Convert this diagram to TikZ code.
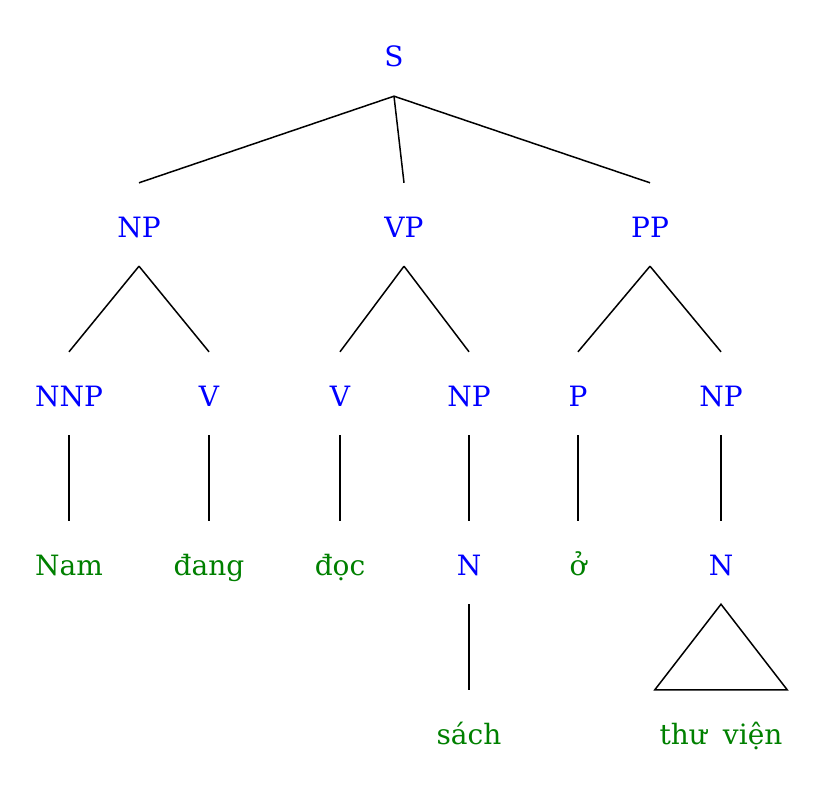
\documentclass[tikz,border=0pt]{standalone}
\usepackage{fontspec}
\setmainfont{DejaVu Serif}
\definecolor{catblue}{RGB}{0,0,255}
\definecolor{wordgreen}{RGB}{0,128,0}
\begin{document}
\begin{tikzpicture}[x=1pt,y=-1pt,
  lab/.style={anchor=base,inner sep=0pt,text height=54pt,text depth=29pt,font=\fontsize{28}{33}\selectfont},
  cat/.style={lab,text=catblue},
  word/.style={lab,text=wordgreen},
  edge/.style={line width=1.5pt,black}]
\useasboundingbox (0,0) rectangle (821,786);
% row 0
\node[cat] (S) at (394,67) {S};
% row 1
\node[cat] (NP1) at (139,237) {NP};
\node[cat] (VP) at (404,237) {VP};
\node[cat] (PP) at (650,237) {PP};
% row 2
\node[cat] (NNP) at (69,406) {NNP};
\node[cat] (V1) at (209,406) {V};
\node[cat] (V2) at (340,406) {V};
\node[cat] (NP2) at (469,406) {NP};
\node[cat] (P) at (578,406) {P};
\node[cat] (NP3) at (721,406) {NP};
% row 3
\node[word] (nam) at (69,575) {Nam};
\node[word] (dang) at (209,575) {đang};
\node[word] (doc) at (340,575) {đọc};
\node[cat] (N1) at (469,575) {N};
\node[word] (o) at (578,575) {ở};
\node[cat] (N2) at (721,575) {N};
% row 4
\node[word] (sach) at (469,744) {sách};
\node[word,minimum width=132pt] (tv) at (721,744) {thư\hspace{16pt}viện};
% edges
\draw[edge] (S.south) -- (NP1.north);
\draw[edge] (S.south) -- (VP.north);
\draw[edge] (S.south) -- (PP.north);
\draw[edge] (NP1.south) -- (NNP.north);
\draw[edge] (NP1.south) -- (V1.north);
\draw[edge] (VP.south) -- (V2.north);
\draw[edge] (VP.south) -- (NP2.north);
\draw[edge] (PP.south) -- (P.north);
\draw[edge] (PP.south) -- (NP3.north);
\draw[edge] (NNP.south) -- (nam.north);
\draw[edge] (V1.south) -- (dang.north);
\draw[edge] (V2.south) -- (doc.north);
\draw[edge] (NP2.south) -- (N1.north);
\draw[edge] (P.south) -- (o.north);
\draw[edge] (NP3.south) -- (N2.north);
\draw[edge] (N1.south) -- (sach.north);
\draw[edge] (N2.south) -- (tv.north west) -- (tv.north east) -- cycle;
\end{tikzpicture}
\end{document}
